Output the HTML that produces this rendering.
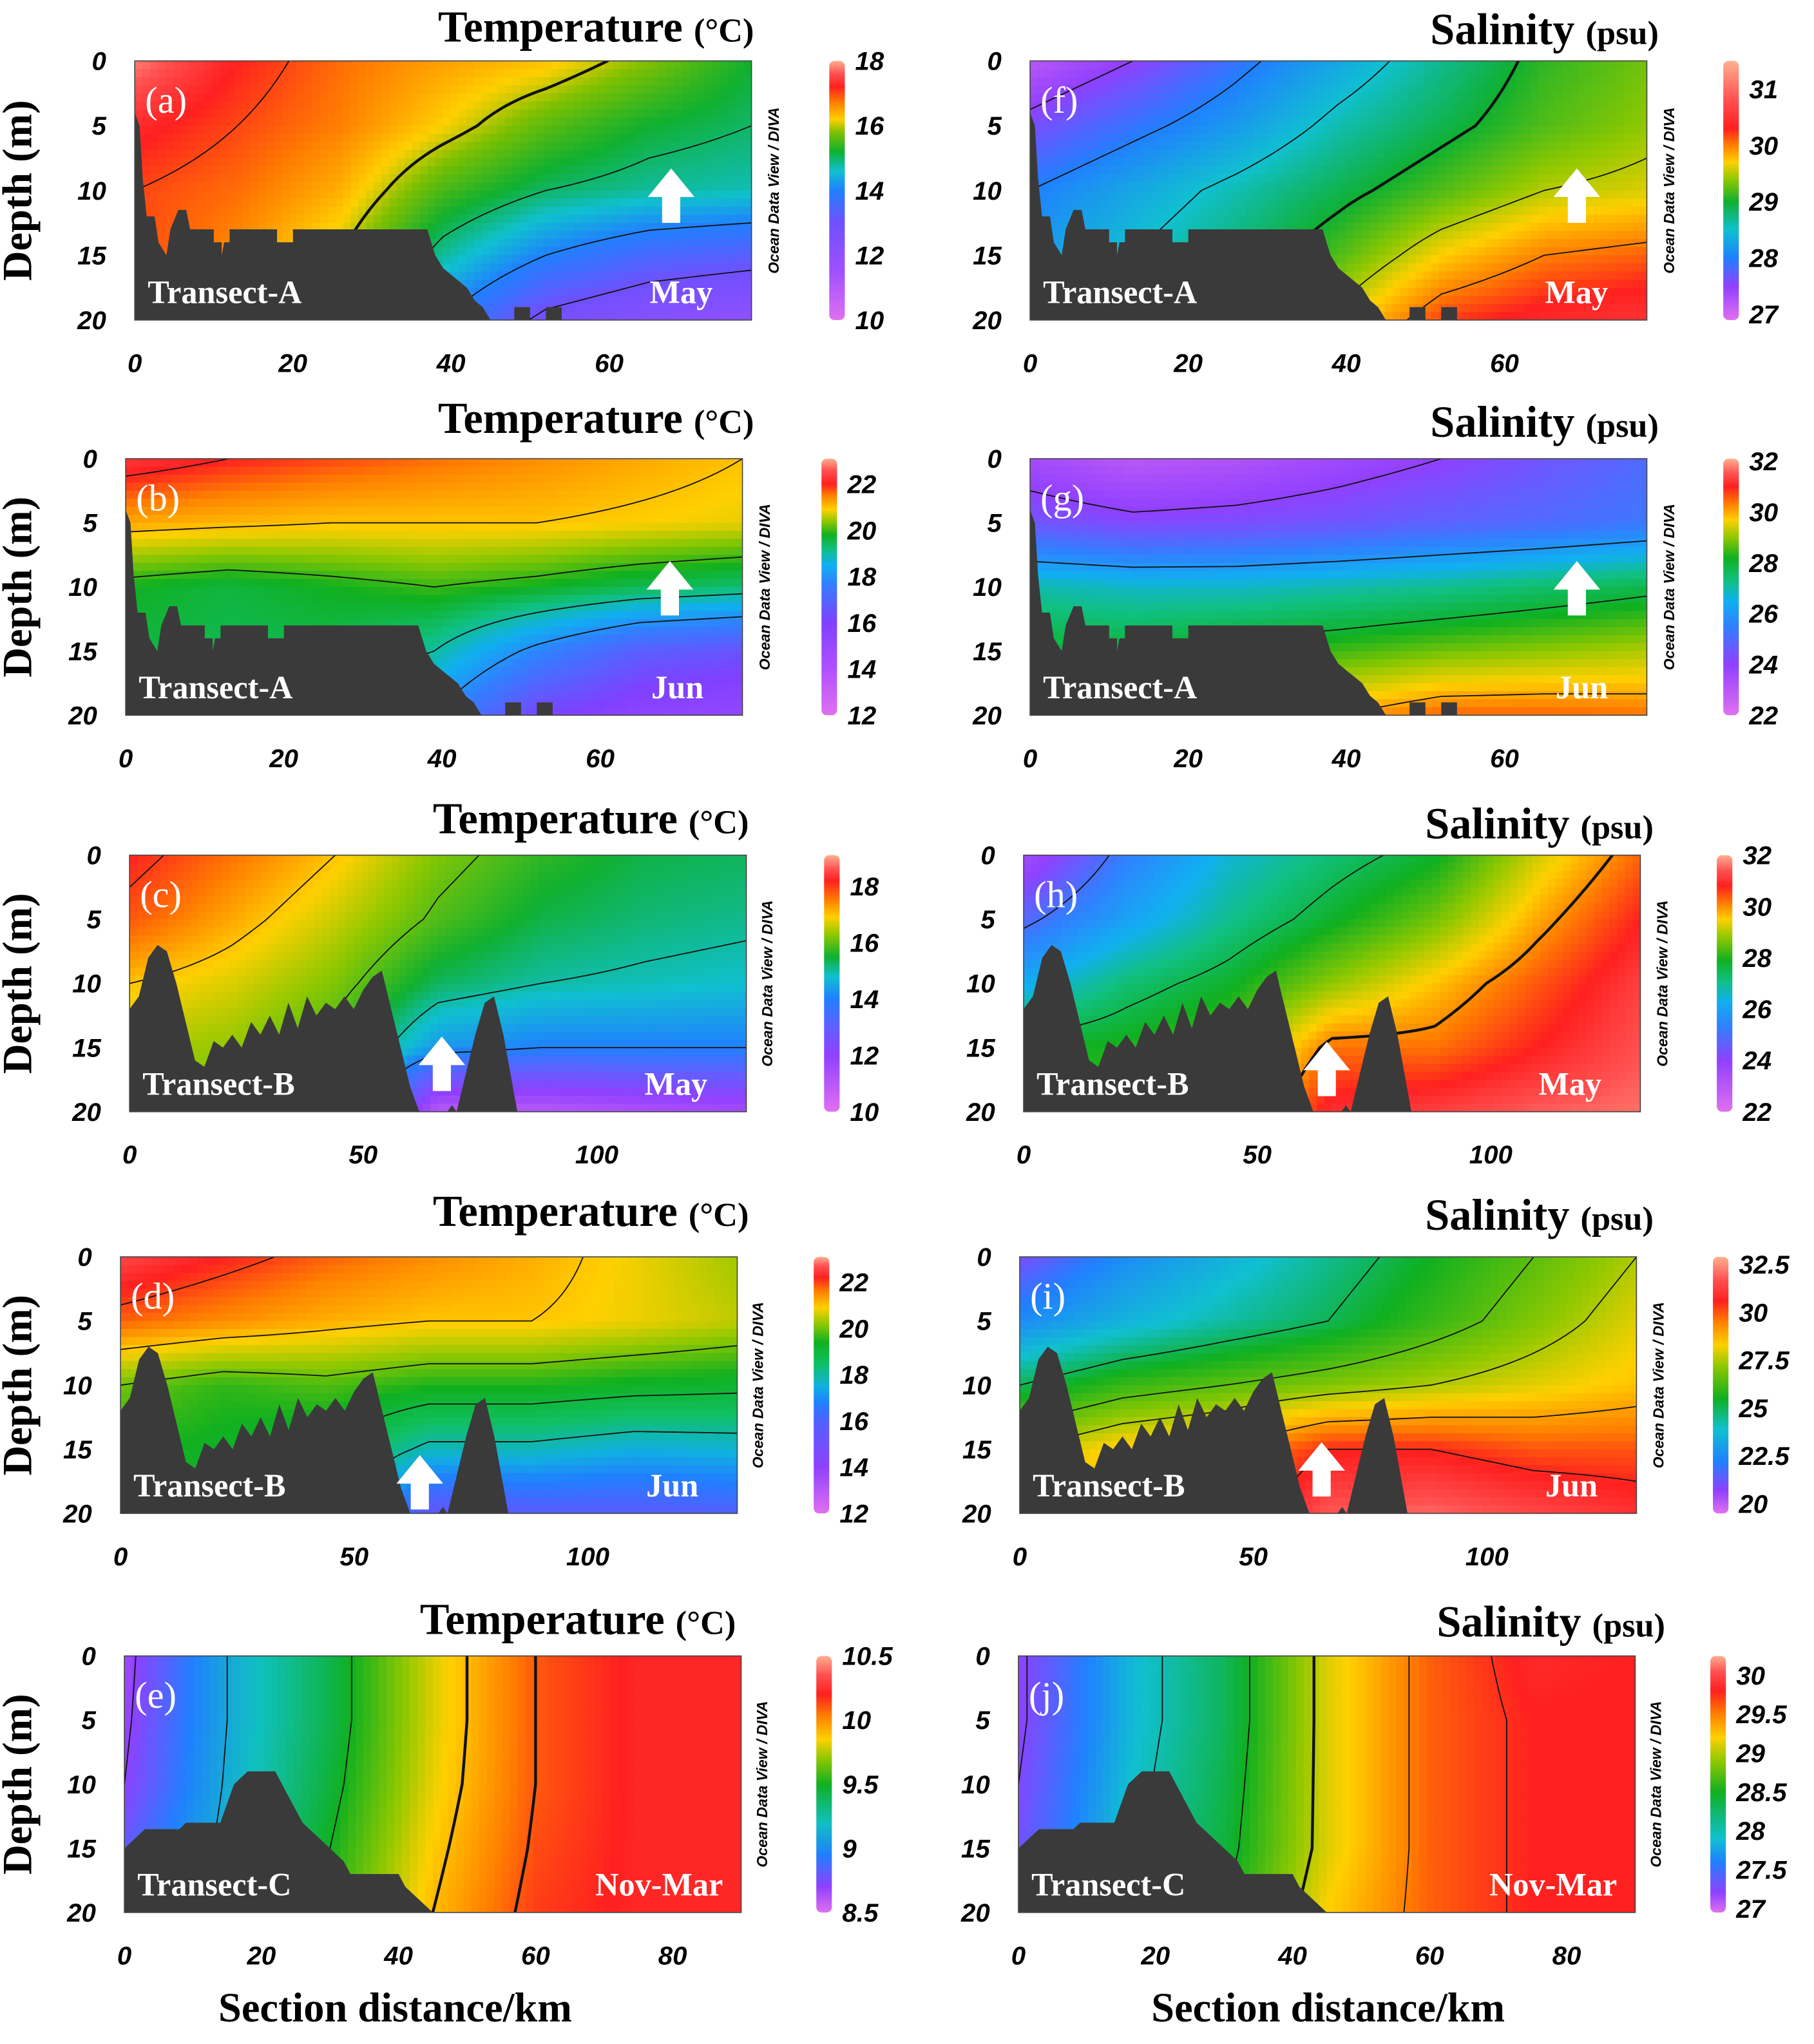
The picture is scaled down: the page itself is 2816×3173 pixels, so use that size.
<!DOCTYPE html>
<html><head><meta charset="utf-8">
<style>
html,body{margin:0;padding:0;background:#fff;}
svg{display:block;}
.tk{font-family:"Liberation Sans",sans-serif;font-weight:bold;font-style:italic;font-size:20px;}
.ttl{font-family:"Liberation Serif",serif;font-weight:bold;font-size:34px;}
.ttls{font-family:"Liberation Serif",serif;font-weight:bold;font-size:26px;}
.odv{font-family:"Liberation Sans",sans-serif;font-weight:bold;font-style:italic;font-size:11.5px;}
.wl{font-family:"Liberation Serif",serif;font-weight:bold;font-size:25px;fill:#fff;}
.pl{font-family:"Liberation Serif",serif;font-size:29px;fill:#fff;}
.ax{font-family:"Liberation Serif",serif;font-weight:bold;font-size:32px;}
</style></head>
<body>
<svg id="fig" xmlns="http://www.w3.org/2000/svg" width="2816" height="3173" viewBox="0 0 1400 1577.5">
<defs id="defs"></defs>
</svg>
<script>
// ---- data arrays ----
const depthRows = [0,5,10,15,20];
const tempA_May = [[17.8,17.2,16.8,16.5,16.3,15.8,15.2],[17.3,17.0,16.7,16.2,15.6,15.2,15.0],[17.0,16.8,16.4,15.5,15.0,14.8,14.7],[17.0,16.6,16.0,14.8,14.0,13.5,13.3],[17.0,16.5,15.5,14.0,12.8,12.3,12.0]];
const salA_May = [[27.2,27.5,27.9,28.3,28.7,29.1,29.3],[27.6,27.9,28.2,28.6,28.9,29.2,29.4],[28.0,28.3,28.6,28.9,29.2,29.5,29.6],[28.2,28.5,28.8,29.2,29.7,30.0,30.1],[28.3,28.6,29.0,29.6,30.2,30.4,30.5]];
const tempA_Jun = [[22.3,22.0,21.8,21.6,21.4,21.2,21.0],[21.2,21.1,21.0,21.0,21.0,20.9,20.8],[19.8,19.6,19.8,20.0,19.8,19.5,19.3],[19.6,19.5,19.5,19.0,17.8,16.8,16.5],[19.5,19.5,19.3,18.0,16.2,15.5,15.2]];
const salA_Jun = [[23.5,23.0,23.2,23.6,24.0,24.5,25.0],[24.5,24.2,24.3,24.5,24.8,25.0,25.3],[27.0,26.8,26.8,27.0,27.2,27.5,27.8],[28.0,28.0,28.3,28.5,28.8,29.0,29.2],[28.5,28.5,29.0,30.0,30.5,30.5,30.4]];
const tempB_May = [[18.2,17.6,17.0,16.2,15.7,15.4,15.3],[17.8,17.2,16.6,15.9,15.4,15.2,15.1],[17.0,16.7,16.2,15.3,15.0,14.9,14.8],[16.5,16.3,15.8,14.3,14.0,14.0,14.0],[16.3,16.0,15.5,11.0,11.0,11.3,11.5]];
const salB_May = [[23.5,25.3,26.5,27.2,27.8,29.2,30.3],[24.8,26.0,27.0,27.8,28.6,29.8,30.8],[26.2,27.2,27.8,28.8,29.6,30.4,31.2],[27.8,28.0,28.5,30.2,30.2,30.8,31.4],[28.0,28.2,29.0,31.0,31.2,31.5,31.6]];
const tempB_Jun = [[22.6,22.2,21.8,21.5,21.2,20.8,20.3],[21.8,21.5,21.2,21.0,21.0,20.8,20.5],[20.0,19.6,19.8,19.5,19.5,19.3,19.2],[19.5,19.3,19.0,17.8,17.8,17.5,17.6],[19.3,19.2,18.8,15.5,15.8,15.8,16.0]];
const salB_Jun = [[21.0,22.5,23.5,24.5,25.5,26.5,27.5],[22.5,23.5,24.3,25.0,26.0,27.0,28.0],[25.0,26.0,26.5,27.0,27.5,28.0,28.5],[27.5,28.5,29.0,30.5,30.5,30.0,30.0],[28.0,29.0,29.5,31.8,32.0,31.5,31.0]];
const tempC = [[8.65,9.1,9.42,9.8,10.1,10.22,10.22],[8.67,9.1,9.42,9.8,10.1,10.22,10.22],[8.7,9.12,9.45,9.82,10.1,10.22,10.22],[8.8,9.15,9.5,9.86,10.12,10.22,10.22],[8.9,9.2,9.55,9.9,10.15,10.22,10.22]];
const salC = [[27.2,27.8,28.3,29.1,29.6,29.85,29.8],[27.2,27.8,28.3,29.1,29.6,29.8,29.8],[27.25,27.85,28.35,29.1,29.6,29.8,29.8],[27.3,27.9,28.4,29.1,29.6,29.8,29.8],[27.35,27.95,28.5,29.2,29.6,29.8,29.8]];
const bathA = [[0,20],[0,4],[0.6,5],[1,9],[1.5,12],[2.5,12],[3,14],[4,15],[4.5,13],[5.5,11.5],[6.5,11.5],[7,13],[10,13],[10,14],[11,14],[11,15],[11.3,14],[12,14],[12,13],[18,13],[18,14],[20,14],[20,13],[37,13],[37.5,14],[38,15],[39,16],[40,16.5],[41,17],[42,17.5],[43,18.5],[44,19],[45,20],[48,20],[48,19],[50,19],[50,20],[52,20],[52,19],[54,19],[54,20]];
const bathB = [[0,20],[0,12],[2,11],[4,8],[6,7],[8,7.5],[10,10],[12,13],[14,16],[16,16.5],[18,14.5],[20,15],[22,14],[24,15],[26,13],[28,14],[30,12.5],[32,14],[34,11.5],[36,13.5],[38,11],[40,12.5],[42,11.5],[44,12],[46,11],[48,12],[50,10.5],[52,9.5],[54,9],[56,12],[58,15],[60,18],[62,20],[68,20],[69,19.5],[70,20],[72,17],[74,14],[76,11.5],[78,11],[80,14],[82,18],[83,20]];
const bathC = [[0,20],[0,15],[2,14],[3,13.5],[8,13.5],[9,13],[14,13],[16,10],[18,9],[22,9],[24,11],[26,13],[28,14],[30,15],[32,16],[33,17],[40,17],[41,18],[43,19],[45,20]];
const anchA=[[10,"#e070f0"],[11.5,"#a050ff"],[13,"#7050ff"],[14,"#2080ff"],[14.6,"#10c0d0"],[15.2,"#10b030"],[15.8,"#80c000"],[16.2,"#ffd000"],[16.7,"#ff8000"],[17.2,"#ff2020"],[17.6,"#ff5050"],[18,"#ffb090"]];
const anchF=[[26.9,"#e070f0"],[27.5,"#9040ff"],[28,"#2080ff"],[28.5,"#10c0d0"],[29,"#10b030"],[29.4,"#90c800"],[29.7,"#ffd000"],[30,"#ff8000"],[30.3,"#ff2020"],[30.8,"#ff5050"],[31.5,"#ffb090"]];
const anchB=[[12,"#e070f0"],[14,"#b050ff"],[16,"#8040ff"],[17.7,"#3080ff"],[18.5,"#10b0f0"],[19.2,"#10c080"],[19.8,"#10b020"],[20.4,"#90c800"],[20.9,"#ffd000"],[21.5,"#ff8000"],[22,"#ff2020"],[22.6,"#ff5050"],[23.1,"#ffb090"]];
const anchG=[[22,"#e070f0"],[24,"#9040ff"],[25.5,"#3080ff"],[26.5,"#10b0f0"],[27.3,"#10c080"],[28.2,"#10b020"],[29,"#90c800"],[29.7,"#ffd000"],[30.3,"#ff8000"],[31,"#ff2020"],[31.5,"#ff5050"],[32.1,"#ffb090"]];
const anchC=[[10,"#e070f0"],[12,"#9040ff"],[13,"#6060ff"],[14,"#2080ff"],[14.8,"#10c0d0"],[15.5,"#10b030"],[16.3,"#90c800"],[16.9,"#ffd000"],[17.5,"#ff8000"],[18.2,"#ff2020"],[18.6,"#ff5050"],[19.1,"#ffb090"]];
const anchH=[[22,"#e070f0"],[24,"#9040ff"],[25.3,"#3080ff"],[26.3,"#10b0f0"],[27.1,"#10c080"],[27.9,"#10b020"],[28.8,"#90c800"],[29.5,"#ffd000"],[30.1,"#ff8000"],[30.8,"#ff2020"],[31.4,"#ff5050"],[32,"#ffb090"]];
const anchD=[[12,"#e070f0"],[14,"#9040ff"],[16,"#5060ff"],[16.8,"#2080ff"],[17.5,"#10b0e0"],[18.5,"#10c060"],[19.4,"#10b020"],[20.2,"#90c800"],[20.9,"#ffd000"],[21.6,"#ff8000"],[22.2,"#ff2020"],[22.7,"#ff5050"],[23.1,"#ffb090"]];
const anchI=[[19.5,"#e070f0"],[20.7,"#9040ff"],[22.2,"#2080ff"],[23.9,"#10c0d0"],[25.5,"#10b020"],[27.2,"#90c800"],[28.3,"#ffd000"],[29.5,"#ff8000"],[30.6,"#ff2020"],[31.7,"#ff5050"],[32.9,"#ffb090"]];
const anchE=[[8.5,"#e070f0"],[8.7,"#9040ff"],[8.95,"#2080ff"],[9.2,"#10c0c0"],[9.5,"#10b020"],[9.7,"#90c800"],[9.85,"#ffd000"],[10.03,"#ff8000"],[10.2,"#ff2020"],[10.35,"#ff5050"],[10.5,"#ffb090"]];
const anchJ=[[26.95,"#e070f0"],[27.2,"#9040ff"],[27.6,"#2080ff"],[27.9,"#10c0d0"],[28.5,"#10b020"],[28.9,"#90c800"],[29.2,"#ffd000"],[29.5,"#ff8000"],[29.8,"#ff2020"],[30.05,"#ff5050"],[30.25,"#ffb090"]];

const panels = [
 {id:'a',x0:104,x1:580,y0:47,y1:247,xmax:78,xt:[0,20,40,60],g:tempA_May,an:anchA,vmin:10,vmax:18,lev:[13,14,15,17],bold:[16],cb:640,cbT:[10,12,14,16,18],odv:597,bath:bathA,tr:'Transect-A',mo:'May',arrow:[518,152],kind:'T',ty:32,tx:460,name:'temperature-transect-a-may'},
 {id:'f',x0:795,x1:1271,y0:47,y1:247,xmax:78,xt:[0,20,40,60],g:salA_May,an:anchF,vmin:26.9,vmax:31.5,lev:[27.5,28,28.5,29.5,30],bold:[29],cb:1330,cbT:[27,28,29,30,31],odv:1288,bath:bathA,tr:'Transect-A',mo:'May',arrow:[1217,152],kind:'S',ty:34,tx:1192,name:'salinity-transect-a-may'},
 {id:'b',x0:97,x1:573,y0:354,y1:552,xmax:78,xt:[0,20,40,60],g:tempA_Jun,an:anchB,vmin:12,vmax:23.1,lev:[18,19,20,21,22],bold:[],cb:634,cbT:[12,14,16,18,20,22],odv:590,bath:bathA,tr:'Transect-A',mo:'Jun',arrow:[517,455],kind:'T',ty:334,tx:460,name:'temperature-transect-a-jun'},
 {id:'g',x0:795,x1:1271,y0:354,y1:552,xmax:78,xt:[0,20,40,60],g:salA_Jun,an:anchG,vmin:22,vmax:32.1,lev:[24,26,28,30],bold:[],cb:1330,cbT:[22,24,26,28,30,32],odv:1288,bath:bathA,tr:'Transect-A',mo:'Jun',arrow:[1217,455],kind:'S',ty:337,tx:1192,name:'salinity-transect-a-jun'},
 {id:'c',x0:100,x1:576,y0:660,y1:858,xmax:132,xt:[0,50,100],g:tempB_May,an:anchC,vmin:10,vmax:19.1,lev:[14,15,16,17,18],bold:[],cb:636,cbT:[10,12,14,16,18],odv:592,bath:bathB,tr:'Transect-B',mo:'May',arrow:[341,822],kind:'T',ty:643,tx:456,name:'temperature-transect-b-may'},
 {id:'h',x0:790,x1:1266,y0:660,y1:858,xmax:132,xt:[0,50,100],g:salB_May,an:anchH,vmin:22,vmax:32,lev:[25,27.5],bold:[30],cb:1325,cbT:[22,24,26,28,30,32],odv:1283,bath:bathB,tr:'Transect-B',mo:'May',arrow:[1024,826],kind:'S',ty:647,tx:1188,name:'salinity-transect-b-may'},
 {id:'d',x0:93,x1:569,y0:970,y1:1168,xmax:132,xt:[0,50,100],g:tempB_Jun,an:anchD,vmin:12,vmax:23.1,lev:[18,19,20,21,22],bold:[],cb:628,cbT:[12,14,16,18,20,22],odv:585,bath:bathB,tr:'Transect-B',mo:'Jun',arrow:[324,1145],kind:'T',ty:946,tx:456,name:'temperature-transect-b-jun'},
 {id:'i',x0:787,x1:1263,y0:970,y1:1168,xmax:132,xt:[0,50,100],g:salB_Jun,an:anchI,vmin:19.5,vmax:32.9,lev:[25,26.5,27.5,29,30.5],bold:[],cb:1322,cbT:[20,22.5,25,27.5,30,32.5],odv:1280,bath:bathB,tr:'Transect-B',mo:'Jun',arrow:[1020,1135],kind:'S',ty:949,tx:1188,name:'salinity-transect-b-jun'},
 {id:'e',x0:96,x1:572,y0:1278,y1:1476,xmax:90,xt:[0,20,40,60,80],g:tempC,an:anchE,vmin:8.5,vmax:10.5,lev:[8.7,9.1,9.5],bold:[9.9,10.1],cb:630,cbT:[8.5,9,9.5,10,10.5],odv:588,bath:bathC,tr:'Transect-C',mo:'Nov-Mar',arrow:null,kind:'T',ty:1261,tx:446,name:'temperature-transect-c-winter'},
 {id:'j',x0:786,x1:1262,y0:1278,y1:1476,xmax:90,xt:[0,20,40,60,80],g:salC,an:anchJ,vmin:26.95,vmax:30.25,lev:[27.25,28,28.5,29.5,29.75],bold:[29],cb:1320,cbT:[27,27.5,28,28.5,29,29.5,30],odv:1278,bath:bathC,tr:'Transect-C',mo:'Nov-Mar',arrow:null,kind:'S',ty:1263,tx:1197,name:'salinity-transect-c-winter'}
];

const NS="http://www.w3.org/2000/svg";
const svg=document.getElementById('fig');
const defs=document.getElementById('defs');
function mk(tag,attrs,parent){const e=document.createElementNS(NS,tag);for(const k in attrs)e.setAttribute(k,attrs[k]);(parent||svg).appendChild(e);return e;}
function hex(h){return [parseInt(h.substr(1,2),16),parseInt(h.substr(3,2),16),parseInt(h.substr(5,2),16)];}
function colorFor(an,v){
  if(v<=an[0][0]){const c=hex(an[0][1]);return `rgb(${c})`;}
  for(let i=1;i<an.length;i++){if(v<=an[i][0]){const a=hex(an[i-1][1]),b=hex(an[i][1]);const f=(v-an[i-1][0])/(an[i][0]-an[i-1][0]);const c=a.map((x,k)=>Math.round(x+(b[k]-x)*f));return `rgb(${c[0]},${c[1]},${c[2]})`;}}
  const c=hex(an[an.length-1][1]);return `rgb(${c})`;
}

panels.forEach(p=>{
  const W=p.x1-p.x0,H=p.y1-p.y0;
  const xs=x=>p.x0+x/p.xmax*W, ys=d=>p.y0+d/20*H;
  const ncol=p.g[0].length;
  function val(x,d){
    let fx=x/p.xmax*(ncol-1), fy=d/5;
    let i=Math.min(ncol-2,Math.max(0,Math.floor(fx))), j=Math.min(3,Math.max(0,Math.floor(fy)));
    let u=fx-i,v=fy-j;
    return p.g[j][i]*(1-u)*(1-v)+p.g[j][i+1]*u*(1-v)+p.g[j+1][i]*(1-u)*v+p.g[j+1][i+1]*u*v;
  }
  const grp=mk('g',{});
  
  
  const cp=mk('clipPath',{id:'clip'+p.id},defs);
  mk('rect',{x:p.x0,y:p.y0,width:W,height:H},cp);
  const field=mk('g',{'clip-path':`url(#clip${p.id})`},grp);
  
  
  const NX=80,NY=32;
  for(let j=0;j<NY;j++)for(let i=0;i<NX;i++){
    const x=(i+0.5)/NX*p.xmax,d=(j+0.5)/NY*20;
    mk('rect',{x:(p.x0+i*W/NX).toFixed(2),y:(p.y0+j*H/NY).toFixed(2),width:(W/NX+0.6).toFixed(2),height:(H/NY+0.6).toFixed(2),fill:colorFor(p.an,val(x,d))},field);
  }
  const MX=96,MY=40;
  const node=[];
  for(let j=0;j<=MY;j++){node.push([]);for(let i=0;i<=MX;i++)node[j].push(val(i/MX*p.xmax,j/MY*20));}
  const levels=p.lev.map(l=>[l,0.9]).concat(p.bold.map(l=>[l,2.2]));
  levels.forEach(([L,w])=>{
    let dstr='';
    for(let j=0;j<MY;j++)for(let i=0;i<MX;i++){
      const c=[[i,j],[i+1,j],[i+1,j+1],[i,j+1]];
      const v=c.map(q=>node[q[1]][q[0]]);
      const bb=v.map(x=>x>=L);
      const pts=[];
      for(let e=0;e<4;e++){const a=e,b=(e+1)%4;if(bb[a]!==bb[b]){let f=(L-v[a])/(v[b]-v[a]);if(!isFinite(f))f=0.5;
        const gx=c[a][0]+(c[b][0]-c[a][0])*f, gy=c[a][1]+(c[b][1]-c[a][1])*f;
        pts.push([p.x0+gx/MX*W,p.y0+gy/MY*H]);}}
      for(let k=0;k+1<pts.length;k+=2)dstr+=`M${pts[k][0].toFixed(2)} ${pts[k][1].toFixed(2)}L${pts[k+1][0].toFixed(2)} ${pts[k+1][1].toFixed(2)}`;
    }
    if(dstr){const pe=mk('path',{d:dstr,stroke:'#111',fill:'none','stroke-width':w,'stroke-linecap':'round'},field);
      
      }
  });
  const bp=mk('polygon',{points:p.bath.map(q=>xs(q[0]).toFixed(1)+','+ys(q[1]).toFixed(1)).join(' '),fill:'#3a3a3a'},grp);
  
  
  mk('rect',{x:p.x0,y:p.y0,width:W,height:H,fill:'none',stroke:'#444','stroke-width':0.8},grp);
  if(p.arrow){const [ax,ay]=p.arrow;
    const ar=mk('polygon',{points:`${ax-7},${ay+20} ${ax+7},${ay+20} ${ax+7},${ay} ${ax+18},${ay} ${ax},${ay-22} ${ax-18},${ay} ${ax-7},${ay}`,fill:'#fff'},grp);
    
    }
  const pl=mk('text',{x:p.x0+8,y:p.y0+40,class:'pl'},grp);pl.textContent='('+p.id+')';
  
  
  const tl=mk('text',{x:p.x0+10,y:p.y1-13,class:'wl'},grp);tl.textContent=p.tr;
  
  
  const ml=mk('text',{x:p.x1-30,y:p.y1-13,class:'wl','text-anchor':'end'},grp);ml.textContent=p.mo;
  if(p.mo==='Nov-Mar')ml.setAttribute('x',p.x1-14);
  
  
  [0,5,10,15,20].forEach(d=>{const t=mk('text',{x:p.x0-22,y:ys(d)+7,class:'tk','text-anchor':'end'},grp);t.textContent=d;
    
    });
  p.xt.forEach(x=>{const t=mk('text',{x:xs(x),y:p.y1+40,class:'tk','text-anchor':'middle'},grp);t.textContent=x;
    
    });
  if(p.x0<400){const yl=mk('text',{x:0,y:0,class:'ax','text-anchor':'middle',transform:`translate(24 ${(p.y0+p.y1)/2}) rotate(-90)`},grp);yl.textContent='Depth (m)';
    
    }
  const tt=mk('text',{x:p.tx,y:p.ty,'text-anchor':'middle'},grp);
  
  
  const t1=mk('tspan',{class:'ttl'},tt);t1.textContent=p.kind==='T'?'Temperature ':'Salinity ';
  const t2=mk('tspan',{class:'ttls'},tt);t2.textContent=p.kind==='T'?'(°C)':'(psu)';
  const od=mk('text',{x:0,y:0,class:'odv','text-anchor':'middle',transform:`translate(${p.odv+4} ${(p.y0+p.y1)/2}) rotate(-90)`},grp);od.textContent='Ocean Data View / DIVA';
  
  
  const gid='cg'+p.id;const lg=mk('linearGradient',{id:gid,x1:0,y1:1,x2:0,y2:0},defs);
  p.an.forEach(s=>mk('stop',{offset:Math.max(0,Math.min(1,(s[0]-p.vmin)/(p.vmax-p.vmin))).toFixed(3),'stop-color':s[1]},lg));
  const cb=mk('rect',{x:p.cb,y:p.y0,width:12,height:H,rx:4,fill:`url(#${gid})`},grp);
  
  
  p.cbT.forEach(v=>{const y=p.y1-(v-p.vmin)/(p.vmax-p.vmin)*H;
    const t=mk('text',{x:p.cb+20,y:y+7,class:'tk'},grp);t.textContent=v;
    
    });
});
[[305,'x-axis-title-left'],[1025,'x-axis-title-right']].forEach(([x,n])=>{
  const t=mk('text',{x:x,y:1560,class:'ax','text-anchor':'middle'});t.textContent='Section distance/km';
  
  
});
</script>
</body></html>
